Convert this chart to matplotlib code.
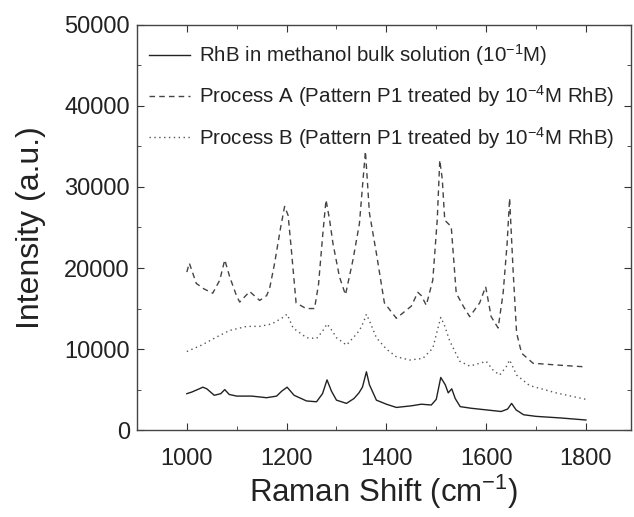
import numpy as np
import matplotlib
matplotlib.use("Agg")
import matplotlib.pyplot as plt
from matplotlib.ticker import MultipleLocator

plt.rcParams['font.family'] = ['Liberation Sans', 'DejaVu Sans']
plt.rcParams['mathtext.fontset'] = 'custom'
plt.rcParams['mathtext.rm'] = 'Liberation Sans'
plt.rcParams['mathtext.it'] = 'Liberation Sans'

# RhB in methanol bulk solution
bulk_x = [1000, 1010, 1025, 1032, 1040, 1055, 1068, 1076, 1085, 1100, 1130, 1160, 1180, 1190, 1201,
          1215, 1240, 1260, 1272, 1281, 1290, 1300, 1320, 1335, 1345, 1352, 1360, 1366, 1380,
          1400, 1420, 1450, 1470, 1490, 1500, 1509, 1518, 1524, 1531, 1538, 1548, 1570, 1600,
          1630, 1643, 1651, 1660, 1675, 1700, 1750, 1800]
bulk_y = [4500, 4700, 5100, 5300, 5100, 4300, 4500, 5000, 4400, 4200, 4200, 4000, 4200, 4800, 5300,
          4300, 3600, 3500, 4500, 6200, 4800, 3700, 3300, 3900, 4600, 5300, 7200, 5600, 3700,
          3200, 2800, 3000, 3200, 3100, 3800, 6500, 5600, 4600, 5100, 3900, 2900, 2700, 2500,
          2300, 2600, 3300, 2500, 1900, 1700, 1500, 1250]

# Process A (Pattern P1 treated by 1e-4 M RhB)
proc_a_x = [1000, 1005, 1019, 1035, 1052, 1066, 1076, 1086, 1100, 1106, 1126, 1146, 1160, 1166, 1176,
            1188, 1196, 1203, 1209, 1219, 1239, 1256, 1264, 1273, 1279, 1286, 1293, 1306, 1318,
            1333, 1346, 1352, 1358, 1366, 1380, 1396, 1420, 1436, 1450, 1463, 1470, 1480, 1493,
            1502, 1507, 1512, 1517, 1530, 1540, 1555, 1567, 1587, 1599, 1610, 1624, 1634, 1642,
            1647, 1654, 1661, 1671, 1694, 1750, 1800]
proc_a_y = [19500, 20600, 18100, 17400, 16900, 18500, 21000, 18900, 16500, 15800, 17100, 16000, 16600,
            17500, 20600, 25000, 27600, 26500, 22600, 15700, 15000, 15000, 18000, 24500, 28400, 26000,
            23000, 18900, 16700, 21000, 25500, 30000, 34400, 26800, 21800, 15700, 13800, 14600, 15300,
            17000, 16600, 15400, 18500, 26000, 33300, 31000, 25900, 25100, 16900, 15200, 14000, 15700,
            17700, 14000, 12600, 16900, 23000, 28600, 19700, 12000, 9500, 8250, 8000, 7800]

# Process B (Pattern P1 treated by 1e-4 M RhB)
proc_b_x = [1000, 1030, 1060, 1086, 1120, 1146, 1170, 1190, 1201, 1213, 1240, 1260, 1272, 1281,
            1292, 1300, 1320, 1335, 1346, 1354, 1360, 1368, 1380, 1400, 1420, 1447, 1473, 1493,
            1503, 1509, 1516, 1527, 1547, 1567, 1590, 1600, 1614, 1627, 1640, 1647, 1661, 1687,
            1740, 1800]
proc_b_y = [9700, 10500, 11500, 12300, 12800, 12800, 13100, 13800, 14300, 12600, 11400, 11300, 12200,
            13100, 12200, 11400, 10500, 11500, 12300, 13300, 14300, 13200, 11400, 10000, 9050, 8650,
            8850, 10100, 12500, 13900, 13000, 11000, 8500, 7900, 8300, 8500, 7400, 6800, 7800, 8650,
            6800, 5500, 4600, 3800]

labels = [r'RhB in methanol bulk solution (10$^{-1}$M)',
          r'Process A (Pattern P1 treated by 10$^{-4}$M RhB)',
          r'Process B (Pattern P1 treated by 10$^{-4}$M RhB)']

fig = plt.figure(figsize=(6.34, 5.17), dpi=100)
ax = fig.add_axes([0.216, 0.168, 0.779, 0.784])

ax.plot(bulk_x, bulk_y, color='#222222', lw=1.0, ls='-', label=labels[0])
ax.plot(proc_a_x, proc_a_y, color='#444444', lw=1.0, ls=(0, (4, 3)), label=labels[1])
ax.plot(proc_b_x, proc_b_y, color='#555555', lw=1.0, ls=(0, (1, 2.5)), label=labels[2])

ax.set_xlim(900, 1890)
ax.set_ylim(0, 50000)
ax.xaxis.set_major_locator(MultipleLocator(200))
ax.xaxis.set_minor_locator(MultipleLocator(100))
ax.yaxis.set_major_locator(MultipleLocator(10000))
ax.yaxis.set_minor_locator(MultipleLocator(5000))
ax.tick_params(which='both', direction='in', top=True, right=True, colors='#333333',
               labelcolor='#222222', labelsize=17)
ax.tick_params(which='major', length=5, pad=5)
ax.tick_params(which='minor', length=3)
ax.tick_params(axis='x', which='major', pad=13)
for s in ax.spines.values():
    s.set_color('#444444')
    s.set_linewidth(1.0)

ax.set_xlabel(r'Raman Shift (cm$^{-1}$)', fontsize=22.5, color='#222222', labelpad=2)
ax.set_ylabel('Intensity (a.u.)', fontsize=23, color='#222222', labelpad=13)

leg = ax.legend(loc='upper left', bbox_to_anchor=(0.0, 0.988), frameon=False, fontsize=14.8,
                handlelength=2.0, labelspacing=0.75, borderaxespad=0.2, handletextpad=0.4)
for t in leg.get_texts():
    t.set_color('#222222')

fig.savefig('out.png', dpi=100)
